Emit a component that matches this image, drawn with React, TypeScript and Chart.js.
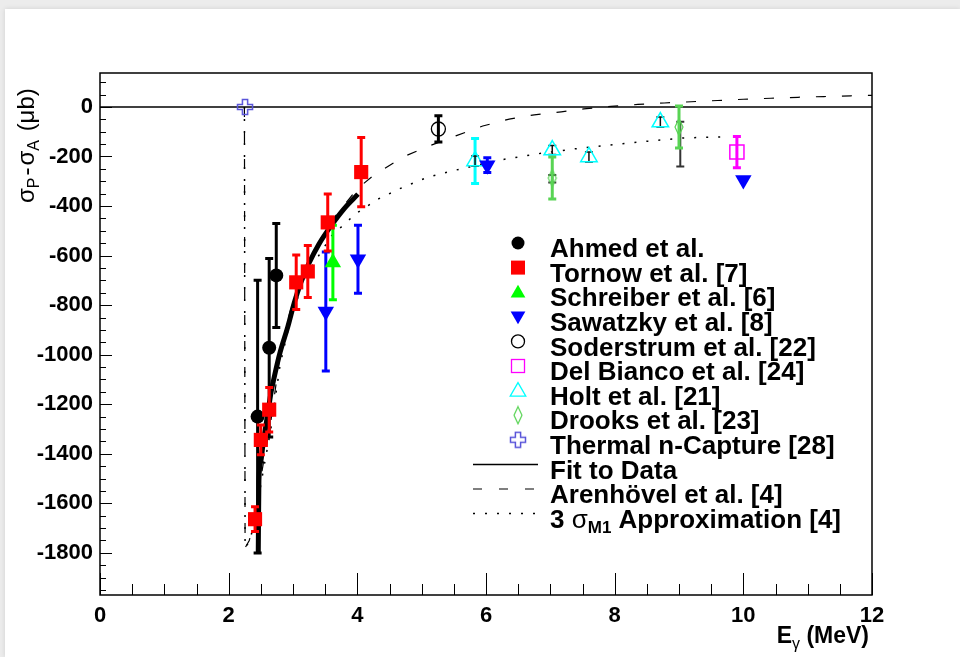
import React, { useEffect, useRef } from 'react';
import { Chart, registerables } from 'chart.js';

Chart.register(...registerables);

// ---------- axes ----------
const X_MIN = 0;
const X_MAX = 12;
const Y_MIN = -1970;
const Y_MAX = 137;
const xTickValues = [0, 2, 4, 6, 8, 10, 12];
const yTickValues = [0, -200, -400, -600, -800, -1000, -1200, -1400, -1600, -1800];
const X_MINOR_STEP = 0.5;
const Y_MINOR_STEP = 50;

// ---------- data ----------
const ahmedE = [2.45, 2.63, 2.74];
const ahmedV = [-1250, -972, -680];
const ahmedErr = [550, 360, 210];

const tornowE = [2.41, 2.5, 2.63, 3.05, 3.23, 3.54, 4.06];
const tornowV = [-1664, -1344, -1222, -708, -664, -466, -263];
const tornowErr = [50, 60, 90, 110, 105, 115, 140];

const schreiberE = [3.62];
const schreiberV = [-628];
const schreiberErr = [150];

const sawatzkyE = [3.51, 4.01, 6.02, 10.0];
const sawatzkyV = [-826, -615, -235, -295];
const sawatzkyErr = [240, 137, 30, 0];

const soderstrumE = [5.26];
const soderstrumV = [-89];
const soderstrumErr = [53];

const delBiancoE = [9.9];
const delBiancoV = [-182];
const delBiancoErr = [63];

const holtE = [5.83, 7.03, 7.6, 8.71];
const holtV = [-218, -174, -202, -61];
const holtErr = [91, 0, 0, 0];
const holtInnerErr = [20, 18, 20, 20];

const drooksE = [7.03, 9.0];
const drooksV = [-287, -81];
const drooksErr = [85, 85];

const darkErrE = [7.03, 9.02];
const darkErrV = [-290, -150];
const darkErr = [15, 90];

const thermalE = [2.254];
const thermalV = [0];

const fitE = [2.46, 2.47, 2.5, 2.53, 2.57, 2.61, 2.66, 2.7, 2.8, 2.92, 3.02, 3.12, 3.25, 3.4, 3.59, 3.79, 4.01];
const fitV = [-1800, -1510, -1430, -1370, -1300, -1235, -1150, -1100, -990, -887, -790, -710, -630, -555, -480, -412, -352];

const arenE = [2.245, 2.255, 2.32, 2.38, 2.45, 2.55, 2.65, 2.8, 2.95, 3.1, 3.3, 3.6, 4.0, 4.24, 4.71, 5.07, 5.53, 5.95, 6.36, 6.75, 7.17, 7.52, 7.94, 8.36, 8.77, 9.19, 9.6, 10.0, 10.43, 10.85, 11.25, 11.67, 12.0];
const arenV = [0, -1780, -1750, -1690, -1580, -1420, -1280, -1000, -830, -710, -590, -460, -330, -279, -202, -162, -117, -77, -49, -32, -20, -8, 2, 10, 16, 21, 26, 31, 35, 39, 42, 45, 47];

const m1E = [2.245, 2.255, 2.32, 2.38, 2.45, 2.55, 2.65, 2.8, 2.95, 3.1, 3.3, 3.6, 3.98, 4.32, 4.71, 5.1, 5.46, 6.2, 6.78, 7.35, 7.91, 8.52, 9.08, 9.68];
const m1V = [0, -1780, -1755, -1700, -1600, -1450, -1310, -1040, -870, -750, -640, -520, -430, -372, -324, -283, -259, -215, -190, -170, -154, -138, -125, -121];

const zeroE = [0, 12];
const zeroV = [0, 0];

const legendLabels = [
  'Ahmed et al.',
  'Tornow et al. [7]',
  'Schreiber et al. [6]',
  'Sawatzky et al. [8]',
  'Soderstrum et al. [22]',
  'Del Bianco et al. [24]',
  'Holt et al. [21]',
  'Drooks et al. [23]',
  'Thermal n-Capture [28]',
  'Fit to Data',
  'Arenhövel et al. [4]',
];

const FONT = '"Liberation Sans", Arial, Helvetica, sans-serif';
const C_DROOKS = '#59d454';
const C_THERMAL = '#5954d9';

const pts = (xs: number[], ys: number[]) => xs.map((x, i) => ({ x, y: ys[i] }));

function makeDiamond(color: string) {
  const c = document.createElement('canvas');
  c.width = 12;
  c.height = 20;
  const g = c.getContext('2d')!;
  g.strokeStyle = color;
  g.lineWidth = 1.2;
  g.beginPath();
  g.moveTo(6, 1.5);
  g.lineTo(10, 10);
  g.lineTo(6, 18.5);
  g.lineTo(2, 10);
  g.closePath();
  g.stroke();
  return c;
}

function makeCross(color: string) {
  const c = document.createElement('canvas');
  c.width = 18;
  c.height = 18;
  const g = c.getContext('2d')!;
  g.strokeStyle = color;
  g.lineWidth = 1.5;
  const m = 9, a = 7.5, w = 2.6;
  g.beginPath();
  g.moveTo(m - w, m - a);
  g.lineTo(m + w, m - a);
  g.lineTo(m + w, m - w);
  g.lineTo(m + a, m - w);
  g.lineTo(m + a, m + w);
  g.lineTo(m + w, m + w);
  g.lineTo(m + w, m + a);
  g.lineTo(m - w, m + a);
  g.lineTo(m - w, m + w);
  g.lineTo(m - a, m + w);
  g.lineTo(m - a, m - w);
  g.lineTo(m - w, m - w);
  g.closePath();
  g.stroke();
  return c;
}

function triPath(ctx: CanvasRenderingContext2D, x: number, y: number, r: number, down: boolean) {
  const s = down ? -1 : 1;
  ctx.beginPath();
  ctx.moveTo(x, y - s * r);
  ctx.lineTo(x + 0.866 * r, y + s * 0.5 * r);
  ctx.lineTo(x - 0.866 * r, y + s * 0.5 * r);
  ctx.closePath();
}

const errPlugin = {
  id: 'errbars',
  beforeDatasetDraw(chart: any, args: any) {
    const ds = chart.data.datasets[args.index];
    if (!ds.errInfo) return;
    const { ctx, chartArea } = chart;
    const xs = chart.scales.x;
    const ys = chart.scales.y;
    ctx.save();
    ctx.beginPath();
    ctx.rect(chartArea.left, chartArea.top, chartArea.right - chartArea.left, chartArea.bottom - chartArea.top);
    ctx.clip();
    for (const info of ds.errInfo) {
      ctx.strokeStyle = info.color;
      ctx.lineWidth = info.width;
      info.xs.forEach((xv: number, i: number) => {
        const e = info.errs[i];
        if (!e) return;
        const px = xs.getPixelForValue(xv);
        const yt = ys.getPixelForValue(info.ys[i] + e);
        const yb = ys.getPixelForValue(info.ys[i] - e);
        ctx.beginPath();
        ctx.moveTo(px, yt);
        ctx.lineTo(px, yb);
        ctx.moveTo(px - 4, yt);
        ctx.lineTo(px + 4, yt);
        ctx.moveTo(px - 4, yb);
        ctx.lineTo(px + 4, yb);
        ctx.stroke();
      });
    }
    ctx.restore();
  },
};

function makeFramePlugin(diamond: HTMLCanvasElement, cross: HTMLCanvasElement) {
  return {
    id: 'frameLegend',
    afterDraw(chart: any) {
      const { ctx, chartArea } = chart;
      const { left, right, top, bottom } = chartArea;
      const xs = chart.scales.x;
      const ys = chart.scales.y;
      ctx.save();
      // minor / major ticks inside frame
      ctx.strokeStyle = '#000';
      ctx.lineWidth = 1;
      ctx.beginPath();
      const nx = Math.round((X_MAX - X_MIN) / X_MINOR_STEP);
      for (let k = 0; k <= nx; k++) {
        const v = X_MIN + k * X_MINOR_STEP;
        const major = xTickValues.indexOf(v) >= 0;
        const px = Math.round(xs.getPixelForValue(v)) + 0.5;
        ctx.moveTo(px, bottom);
        ctx.lineTo(px, bottom - (major ? 22 : 11));
      }
      const y0 = Math.ceil(Y_MIN / Y_MINOR_STEP) * Y_MINOR_STEP;
      for (let v = y0; v <= Y_MAX; v += Y_MINOR_STEP) {
        const major = yTickValues.indexOf(v) >= 0;
        const py = Math.round(ys.getPixelForValue(v)) + 0.5;
        ctx.moveTo(left, py);
        ctx.lineTo(left + (major ? 12 : 6), py);
      }
      ctx.stroke();
      ctx.lineWidth = 1.5;
      ctx.strokeRect(left, top, right - left, bottom - top);

      // y title
      ctx.save();
      ctx.translate(34, 203);
      ctx.rotate(-Math.PI / 2);
      ctx.fillStyle = '#000';
      ctx.textBaseline = 'alphabetic';
      ctx.textAlign = 'left';
      let u = 0;
      const seg = (t: string, font: string, dy: number, gap = 0) => {
        ctx.font = font;
        ctx.fillText(t, u, dy);
        u += ctx.measureText(t).width + gap;
      };
      const big = `24px ${FONT}`;
      const sub = `16px ${FONT}`;
      seg('σ', big, 0);
      seg('P', sub, 5, 2);
      seg('-', big, 0, 2);
      seg('σ', big, 0);
      seg('A', sub, 5, 2);
      seg(' (μb)', big, 0);
      ctx.restore();

      // x title
      ctx.save();
      ctx.fillStyle = '#000';
      ctx.textBaseline = 'alphabetic';
      ctx.textAlign = 'left';
      const fE = `bold 23px ${FONT}`;
      const fG = `16px ${FONT}`;
      ctx.font = fE;
      const wE = ctx.measureText('E').width;
      const wM = ctx.measureText(' (MeV)').width;
      ctx.font = fG;
      const wG = ctx.measureText('γ').width;
      let xx = 869 - (wE + wG + wM);
      ctx.font = fE;
      ctx.fillText('E', xx, 643);
      xx += wE;
      ctx.font = fG;
      ctx.fillText('γ', xx, 649);
      xx += wG;
      ctx.font = fE;
      ctx.fillText(' (MeV)', xx, 643);
      ctx.restore();

      // legend
      const mx = 518;
      const tx = 550;
      const step = 24.6;
      const my0 = 243;
      ctx.fillStyle = '#000';
      ctx.textBaseline = 'middle';
      ctx.textAlign = 'left';
      ctx.font = `bold 26px ${FONT}`;
      legendLabels.forEach((lab, i) => {
        ctx.fillText(lab, tx, my0 + i * step + 7);
      });
      // last entry with subscript
      {
        const yy = my0 + 11 * step + 7;
        let x2 = tx;
        ctx.font = `bold 26px ${FONT}`;
        ctx.fillText('3 ', x2, yy);
        x2 += ctx.measureText('3 ').width;
        ctx.font = `26px ${FONT}`;
        ctx.fillText('σ', x2, yy);
        x2 += ctx.measureText('σ').width;
        ctx.font = `bold 17px ${FONT}`;
        ctx.fillText('M1', x2, yy + 8);
        x2 += ctx.measureText('M1').width;
        ctx.font = `bold 26px ${FONT}`;
        ctx.fillText(' Approximation [4]', x2, yy);
      }
      // legend markers
      let yy = my0;
      ctx.fillStyle = '#000';
      ctx.beginPath();
      ctx.arc(mx, yy, 6.5, 0, Math.PI * 2);
      ctx.fill();
      yy += step;
      ctx.fillStyle = '#ff0000';
      ctx.fillRect(mx - 7, yy - 7, 14, 14);
      yy += step;
      ctx.fillStyle = '#00ff00';
      triPath(ctx, mx, yy + 1, 8.5, false);
      ctx.fill();
      yy += step;
      ctx.fillStyle = '#0000ff';
      triPath(ctx, mx, yy - 1, 8.5, true);
      ctx.fill();
      yy += step;
      ctx.strokeStyle = '#000';
      ctx.lineWidth = 1.3;
      ctx.beginPath();
      ctx.arc(mx, yy, 6.5, 0, Math.PI * 2);
      ctx.stroke();
      yy += step;
      ctx.strokeStyle = '#ff00ff';
      ctx.strokeRect(mx - 6.5, yy - 6.5, 13, 13);
      yy += step;
      ctx.strokeStyle = '#00ffff';
      triPath(ctx, mx, yy + 1, 9, false);
      ctx.stroke();
      yy += step;
      ctx.drawImage(diamond, mx - diamond.width / 2, yy - diamond.height / 2);
      yy += step;
      ctx.drawImage(cross, mx - cross.width / 2, yy - cross.height / 2);
      yy += step;
      ctx.strokeStyle = '#000';
      ctx.lineWidth = 1.5;
      ctx.beginPath();
      ctx.moveTo(473, yy);
      ctx.lineTo(538, yy);
      ctx.stroke();
      yy += step;
      ctx.lineWidth = 1.2;
      ctx.setLineDash([9, 17]);
      ctx.beginPath();
      ctx.moveTo(473, yy);
      ctx.lineTo(540, yy);
      ctx.stroke();
      yy += step;
      ctx.setLineDash([2, 10]);
      ctx.lineWidth = 1.5;
      ctx.beginPath();
      ctx.moveTo(473, yy);
      ctx.lineTo(540, yy);
      ctx.stroke();
      ctx.setLineDash([]);
      ctx.restore();
    },
  };
}

export default function App() {
  const ref = useRef<HTMLCanvasElement>(null);

  useEffect(() => {
    document.body.style.margin = '0';
    const canvas = ref.current!;
    const diamond = makeDiamond(C_DROOKS);
    const cross = makeCross(C_THERMAL);

    const scatter = (data: any, extra: any) => ({
      data,
      showLine: false,
      order: 1,
      ...extra,
    });

    const datasets: any[] = [
      {
        data: pts(zeroE, zeroV),
        showLine: true,
        borderColor: '#000',
        borderWidth: 1.5,
        pointRadius: 0,
        order: 20,
      },
      {
        data: pts(arenE, arenV),
        showLine: true,
        borderColor: '#000',
        borderWidth: 1.2,
        borderDash: [10, 16],
        pointRadius: 0,
        order: 12,
      },
      {
        data: pts(m1E, m1V),
        showLine: true,
        borderColor: '#000',
        borderWidth: 1.5,
        borderDash: [2, 10],
        pointRadius: 0,
        order: 11,
      },
      {
        data: pts(fitE, fitV),
        showLine: true,
        borderColor: '#000',
        borderWidth: 5,
        pointRadius: 0,
        cubicInterpolationMode: 'monotone',
        order: 10,
      },
      scatter(pts(darkErrE, darkErrV), {
        pointRadius: 0,
        order: 9,
        errInfo: [{ xs: darkErrE, ys: darkErrV, errs: darkErr, color: '#333', width: 2 }],
      }),
      scatter(pts(drooksE, drooksV), {
        pointStyle: diamond,
        order: 8,
        errInfo: [{ xs: drooksE, ys: drooksV, errs: drooksErr, color: C_DROOKS, width: 3 }],
      }),
      scatter(pts(holtE, holtV), {
        pointStyle: 'triangle',
        pointRadius: 9.5,
        pointBackgroundColor: 'rgba(0,0,0,0)',
        pointBorderColor: '#00ffff',
        pointBorderWidth: 1.5,
        order: 7,
        errInfo: [
          { xs: holtE, ys: holtV, errs: holtErr, color: '#00ffff', width: 3 },
          { xs: holtE, ys: holtV, errs: holtInnerErr, color: '#111', width: 1.5 },
        ],
      }),
      scatter(pts(delBiancoE, delBiancoV), {
        pointStyle: 'rect',
        pointRadius: 10,
        pointBackgroundColor: 'rgba(0,0,0,0)',
        pointBorderColor: '#ff00ff',
        pointBorderWidth: 1.5,
        order: 6,
        errInfo: [{ xs: delBiancoE, ys: delBiancoV, errs: delBiancoErr, color: '#ff00ff', width: 3 }],
      }),
      scatter(pts(soderstrumE, soderstrumV), {
        pointStyle: 'circle',
        pointRadius: 7,
        pointBackgroundColor: 'rgba(0,0,0,0)',
        pointBorderColor: '#000',
        pointBorderWidth: 1.3,
        order: 5,
        errInfo: [{ xs: soderstrumE, ys: soderstrumV, errs: soderstrumErr, color: '#000', width: 3 }],
      }),
      scatter(pts(sawatzkyE, sawatzkyV), {
        pointStyle: 'triangle',
        pointRotation: 180,
        pointRadius: 9.5,
        pointBackgroundColor: '#0000ff',
        pointBorderColor: '#0000ff',
        pointBorderWidth: 0,
        order: 4,
        errInfo: [{ xs: sawatzkyE, ys: sawatzkyV, errs: sawatzkyErr, color: '#0000ff', width: 3 }],
      }),
      scatter(pts(schreiberE, schreiberV), {
        pointStyle: 'triangle',
        pointRadius: 9.5,
        pointBackgroundColor: '#00ff00',
        pointBorderColor: '#00ff00',
        pointBorderWidth: 0,
        order: 3,
        errInfo: [{ xs: schreiberE, ys: schreiberV, errs: schreiberErr, color: '#00ff00', width: 3 }],
      }),
      scatter(pts(ahmedE, ahmedV), {
        pointStyle: 'circle',
        pointRadius: 7,
        pointBackgroundColor: '#000',
        pointBorderColor: '#000',
        pointBorderWidth: 0,
        order: 2,
        errInfo: [{ xs: ahmedE, ys: ahmedV, errs: ahmedErr, color: '#000', width: 3 }],
      }),
      scatter(pts(tornowE, tornowV), {
        pointStyle: 'rect',
        pointRadius: 10,
        pointBackgroundColor: '#ff0000',
        pointBorderColor: '#ff0000',
        pointBorderWidth: 0,
        order: 1,
        errInfo: [{ xs: tornowE, ys: tornowV, errs: tornowErr, color: '#ff0000', width: 3 }],
      }),
      scatter(pts(thermalE, thermalV), {
        pointStyle: cross,
        order: 0,
      }),
    ];

    const tickFont = { family: FONT, size: 22, weight: 'bold' as const };

    const chart = new Chart(canvas, {
      type: 'scatter',
      data: { datasets },
      options: {
        animation: false,
        responsive: false,
        devicePixelRatio: 1,
        events: [],
        layout: { padding: { top: 73, right: 88, left: 0, bottom: 0 } },
        plugins: { legend: { display: false }, tooltip: { enabled: false } },
        scales: {
          x: {
            type: 'linear',
            min: X_MIN,
            max: X_MAX,
            grid: { display: false, drawTicks: false },
            border: { display: false },
            ticks: {
              font: tickFont,
              color: '#000',
              padding: 8,
              maxRotation: 0,
              autoSkip: false,
              callback: (v: any) => String(v),
            },
            afterBuildTicks: (s: any) => {
              s.ticks = xTickValues.map((v) => ({ value: v }));
            },
            afterFit: (s: any) => {
              s.height = 62;
            },
          },
          y: {
            type: 'linear',
            min: Y_MIN,
            max: Y_MAX,
            grid: { display: false, drawTicks: false },
            border: { display: false },
            ticks: {
              font: tickFont,
              color: '#000',
              padding: 7,
              autoSkip: false,
              callback: (v: any) => String(v),
            },
            afterBuildTicks: (s: any) => {
              s.ticks = yTickValues.map((v) => ({ value: v }));
            },
            afterFit: (s: any) => {
              s.width = 100;
            },
          },
        },
      } as any,
      plugins: [errPlugin, makeFramePlugin(diamond, cross)],
    });

    return () => chart.destroy();
  }, []);

  return (
    <div style={{ position: 'relative', width: 960, height: 657, background: '#ececec', overflow: 'hidden' }}>
      <div
        style={{
          position: 'absolute',
          left: 5,
          top: 9,
          right: 0,
          bottom: 0,
          background: '#ffffff',
          boxShadow: '0 0 5px rgba(0,0,0,0.12)',
        }}
      />
      <canvas
        ref={ref}
        width={960}
        height={657}
        style={{ position: 'absolute', left: 0, top: 0, width: 960, height: 657 }}
      />
    </div>
  );
}
